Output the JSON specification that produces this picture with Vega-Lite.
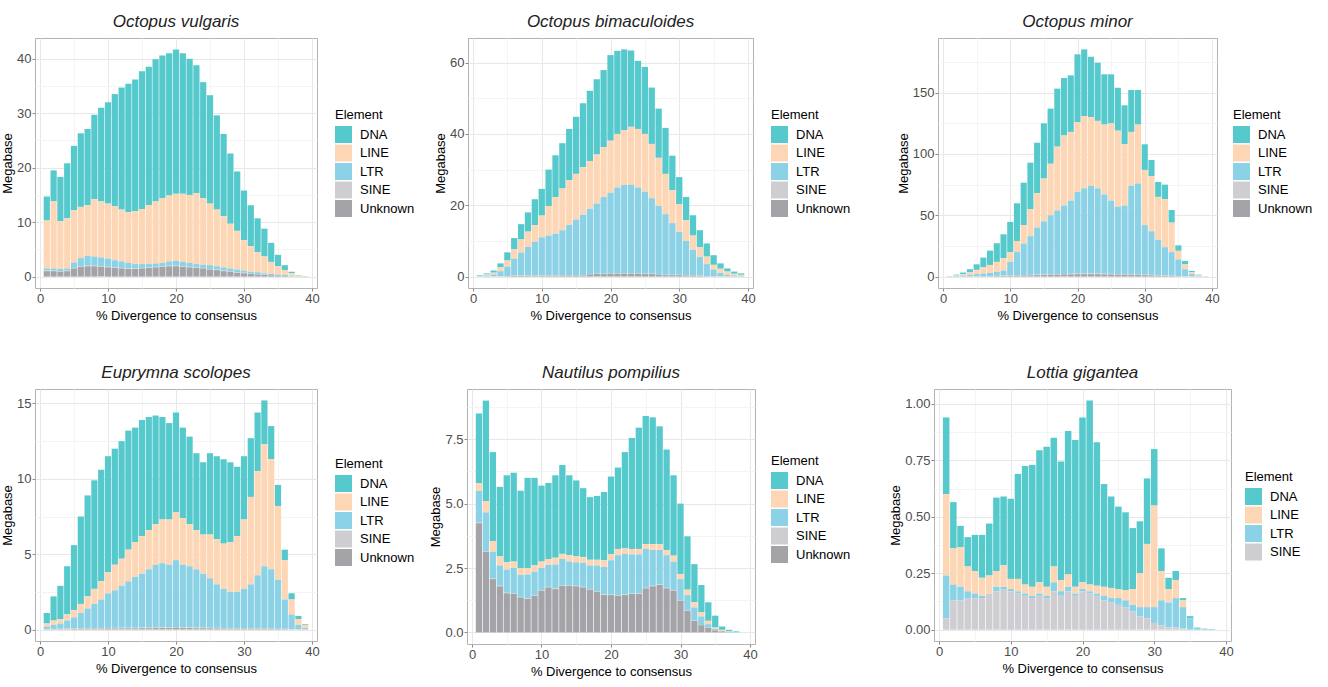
{
"$schema": "https://vega.github.io/schema/vega-lite/v6.json",
"padding": {"left": 1, "top": 12, "right": 5, "bottom": 5},
"background": "white",
"datasets": {
"vulgaris": [
{"d":1,"DNA":4.4,"LINE":8.8,"LTR":0.4,"SINE":0.1,"Unknown":1.0},
{"d":2,"DNA":5.7,"LINE":12.3,"LTR":0.4,"SINE":0.1,"Unknown":1.0},
{"d":3,"DNA":8.1,"LINE":8.8,"LTR":0.4,"SINE":0.1,"Unknown":0.9},
{"d":4,"DNA":10.1,"LINE":9.2,"LTR":0.4,"SINE":0.1,"Unknown":1.0},
{"d":5,"DNA":11.8,"LINE":9.6,"LTR":1.0,"SINE":0.1,"Unknown":1.5},
{"d":6,"DNA":13.5,"LINE":9.4,"LTR":1.5,"SINE":0.1,"Unknown":1.8},
{"d":7,"DNA":14.0,"LINE":9.3,"LTR":1.8,"SINE":0.1,"Unknown":1.9},
{"d":8,"DNA":15.5,"LINE":10.5,"LTR":1.7,"SINE":0.1,"Unknown":1.9},
{"d":9,"DNA":17.2,"LINE":10.3,"LTR":1.6,"SINE":0.1,"Unknown":1.8},
{"d":10,"DNA":18.6,"LINE":10.1,"LTR":1.5,"SINE":0.1,"Unknown":1.7},
{"d":11,"DNA":20.6,"LINE":9.9,"LTR":1.3,"SINE":0.1,"Unknown":1.6},
{"d":12,"DNA":22.4,"LINE":9.5,"LTR":1.2,"SINE":0.1,"Unknown":1.5},
{"d":13,"DNA":23.6,"LINE":9.3,"LTR":1.0,"SINE":0.1,"Unknown":1.4},
{"d":14,"DNA":24.2,"LINE":9.7,"LTR":0.8,"SINE":0.1,"Unknown":1.4},
{"d":15,"DNA":25.3,"LINE":10.1,"LTR":0.7,"SINE":0.1,"Unknown":1.5},
{"d":16,"DNA":25.4,"LINE":10.8,"LTR":0.6,"SINE":0.1,"Unknown":1.6},
{"d":17,"DNA":26.1,"LINE":11.4,"LTR":0.6,"SINE":0.1,"Unknown":1.7},
{"d":18,"DNA":26.2,"LINE":11.9,"LTR":0.6,"SINE":0.1,"Unknown":1.8},
{"d":19,"DNA":26.1,"LINE":12.1,"LTR":0.8,"SINE":0.1,"Unknown":1.9},
{"d":20,"DNA":26.5,"LINE":12.3,"LTR":0.9,"SINE":0.1,"Unknown":1.9},
{"d":21,"DNA":25.8,"LINE":12.5,"LTR":0.8,"SINE":0.1,"Unknown":1.8},
{"d":22,"DNA":25.0,"LINE":12.5,"LTR":0.7,"SINE":0.1,"Unknown":1.7},
{"d":23,"DNA":23.5,"LINE":13.0,"LTR":0.6,"SINE":0.1,"Unknown":1.6},
{"d":24,"DNA":21.3,"LINE":12.2,"LTR":0.6,"SINE":0.1,"Unknown":1.5},
{"d":25,"DNA":19.9,"LINE":11.3,"LTR":0.7,"SINE":0.1,"Unknown":1.3},
{"d":26,"DNA":17.3,"LINE":10.4,"LTR":0.6,"SINE":0.1,"Unknown":1.2},
{"d":27,"DNA":15.1,"LINE":9.4,"LTR":0.6,"SINE":0.1,"Unknown":1.0},
{"d":28,"DNA":12.9,"LINE":8.2,"LTR":0.5,"SINE":0.1,"Unknown":0.9},
{"d":29,"DNA":10.9,"LINE":7.1,"LTR":0.5,"SINE":0.1,"Unknown":0.7},
{"d":30,"DNA":9.1,"LINE":5.6,"LTR":0.4,"SINE":0.1,"Unknown":0.6},
{"d":31,"DNA":7.5,"LINE":4.7,"LTR":0.35,"SINE":0.05,"Unknown":0.5},
{"d":32,"DNA":6.2,"LINE":3.7,"LTR":0.35,"SINE":0.05,"Unknown":0.4},
{"d":33,"DNA":5.1,"LINE":3.1,"LTR":0.25,"SINE":0.05,"Unknown":0.3},
{"d":34,"DNA":3.5,"LINE":2.2,"LTR":0.2,"SINE":0.05,"Unknown":0.25},
{"d":35,"DNA":2.1,"LINE":1.5,"LTR":0.15,"SINE":0.05,"Unknown":0.2},
{"d":36,"DNA":0.9,"LINE":0.9,"LTR":0.2,"SINE":0.0,"Unknown":0.1},
{"d":37,"DNA":0.3,"LINE":0.45,"LTR":0.1,"SINE":0.0,"Unknown":0.05},
{"d":38,"DNA":0.1,"LINE":0.15,"LTR":0.03,"SINE":0.0,"Unknown":0.02},
{"d":39,"DNA":0.05,"LINE":0.03,"LTR":0.01,"SINE":0.0,"Unknown":0.01}
],
"bimaculoides": [
{"d":1,"DNA":0.2,"LINE":0.1,"LTR":0.08,"SINE":0.01,"Unknown":0.01},
{"d":2,"DNA":0.3,"LINE":0.3,"LTR":0.26,"SINE":0.02,"Unknown":0.02},
{"d":3,"DNA":0.6,"LINE":0.5,"LTR":0.55,"SINE":0.02,"Unknown":0.03},
{"d":4,"DNA":1.1,"LINE":1.1,"LTR":1.4,"SINE":0.05,"Unknown":0.05},
{"d":5,"DNA":2.3,"LINE":1.7,"LTR":2.65,"SINE":0.05,"Unknown":0.1},
{"d":6,"DNA":3.2,"LINE":2.6,"LTR":4.7,"SINE":0.1,"Unknown":0.2},
{"d":7,"DNA":4.3,"LINE":3.7,"LTR":6.4,"SINE":0.1,"Unknown":0.2},
{"d":8,"DNA":5.4,"LINE":4.3,"LTR":8.0,"SINE":0.1,"Unknown":0.2},
{"d":9,"DNA":7.3,"LINE":4.6,"LTR":9.5,"SINE":0.1,"Unknown":0.2},
{"d":10,"DNA":7.5,"LINE":6.1,"LTR":10.7,"SINE":0.1,"Unknown":0.2},
{"d":11,"DNA":10.2,"LINE":8.3,"LTR":11.2,"SINE":0.1,"Unknown":0.2},
{"d":12,"DNA":11.7,"LINE":10.3,"LTR":11.7,"SINE":0.1,"Unknown":0.2},
{"d":13,"DNA":12.7,"LINE":11.7,"LTR":12.6,"SINE":0.1,"Unknown":0.3},
{"d":14,"DNA":14.4,"LINE":12.5,"LTR":14.1,"SINE":0.1,"Unknown":0.3},
{"d":15,"DNA":16.0,"LINE":12.8,"LTR":15.6,"SINE":0.1,"Unknown":0.3},
{"d":16,"DNA":17.9,"LINE":13.4,"LTR":16.9,"SINE":0.1,"Unknown":0.3},
{"d":17,"DNA":19.7,"LINE":13.4,"LTR":18.3,"SINE":0.1,"Unknown":0.6},
{"d":18,"DNA":21.1,"LINE":13.7,"LTR":19.7,"SINE":0.1,"Unknown":0.7},
{"d":19,"DNA":21.6,"LINE":14.0,"LTR":21.5,"SINE":0.1,"Unknown":0.7},
{"d":20,"DNA":24.0,"LINE":14.6,"LTR":22.6,"SINE":0.1,"Unknown":0.8},
{"d":21,"DNA":23.3,"LINE":15.0,"LTR":24.1,"SINE":0.1,"Unknown":0.8},
{"d":22,"DNA":22.6,"LINE":15.4,"LTR":24.8,"SINE":0.1,"Unknown":0.8},
{"d":23,"DNA":21.4,"LINE":16.2,"LTR":24.9,"SINE":0.1,"Unknown":0.8},
{"d":24,"DNA":19.1,"LINE":16.4,"LTR":24.1,"SINE":0.1,"Unknown":0.8},
{"d":25,"DNA":18.8,"LINE":16.2,"LTR":23.0,"SINE":0.1,"Unknown":0.7},
{"d":26,"DNA":15.8,"LINE":15.2,"LTR":21.2,"SINE":0.1,"Unknown":0.7},
{"d":27,"DNA":13.8,"LINE":13.5,"LTR":19.1,"SINE":0.1,"Unknown":0.6},
{"d":28,"DNA":12.9,"LINE":11.3,"LTR":17.0,"SINE":0.1,"Unknown":0.4},
{"d":29,"DNA":9.7,"LINE":9.2,"LTR":14.5,"SINE":0.1,"Unknown":0.4},
{"d":30,"DNA":7.6,"LINE":7.8,"LTR":12.0,"SINE":0.1,"Unknown":0.4},
{"d":31,"DNA":6.5,"LINE":5.8,"LTR":9.6,"SINE":0.1,"Unknown":0.3},
{"d":32,"DNA":5.7,"LINE":4.0,"LTR":7.1,"SINE":0.1,"Unknown":0.3},
{"d":33,"DNA":4.8,"LINE":2.7,"LTR":5.2,"SINE":0.1,"Unknown":0.2},
{"d":34,"DNA":3.7,"LINE":2.1,"LTR":3.35,"SINE":0.05,"Unknown":0.1},
{"d":35,"DNA":2.7,"LINE":1.3,"LTR":1.85,"SINE":0.05,"Unknown":0.1},
{"d":36,"DNA":1.5,"LINE":1.2,"LTR":0.93,"SINE":0.02,"Unknown":0.05},
{"d":37,"DNA":0.9,"LINE":0.9,"LTR":0.45,"SINE":0.02,"Unknown":0.03},
{"d":38,"DNA":0.6,"LINE":0.5,"LTR":0.27,"SINE":0.01,"Unknown":0.02},
{"d":39,"DNA":0.4,"LINE":0.3,"LTR":0.18,"SINE":0.01,"Unknown":0.01}
],
"minor": [
{"d":1,"DNA":0.2,"LINE":0.1,"LTR":0.13,"SINE":0.02,"Unknown":0.05},
{"d":2,"DNA":0.7,"LINE":0.4,"LTR":0.35,"SINE":0.05,"Unknown":0.1},
{"d":3,"DNA":1.3,"LINE":1.0,"LTR":0.8,"SINE":0.05,"Unknown":0.15},
{"d":4,"DNA":2.5,"LINE":2.0,"LTR":1.2,"SINE":0.1,"Unknown":0.2},
{"d":5,"DNA":4.5,"LINE":3.5,"LTR":1.7,"SINE":0.1,"Unknown":0.2},
{"d":6,"DNA":8.0,"LINE":5.0,"LTR":2.1,"SINE":0.1,"Unknown":0.3},
{"d":7,"DNA":11.7,"LINE":6.5,"LTR":2.5,"SINE":0.2,"Unknown":0.3},
{"d":8,"DNA":15.2,"LINE":8.2,"LTR":3.2,"SINE":0.2,"Unknown":0.4},
{"d":9,"DNA":19.5,"LINE":10.0,"LTR":4.2,"SINE":0.3,"Unknown":0.5},
{"d":10,"DNA":24.6,"LINE":8.0,"LTR":11.1,"SINE":0.3,"Unknown":0.6},
{"d":11,"DNA":30.8,"LINE":9.0,"LTR":18.9,"SINE":0.3,"Unknown":0.8},
{"d":12,"DNA":34.6,"LINE":15.0,"LTR":25.7,"SINE":0.4,"Unknown":0.9},
{"d":13,"DNA":37.9,"LINE":22.0,"LTR":31.6,"SINE":0.4,"Unknown":1.0},
{"d":14,"DNA":41.2,"LINE":28.0,"LTR":38.3,"SINE":0.5,"Unknown":1.2},
{"d":15,"DNA":45.0,"LINE":35.0,"LTR":43.2,"SINE":0.5,"Unknown":1.3},
{"d":16,"DNA":45.0,"LINE":42.0,"LTR":48.0,"SINE":0.5,"Unknown":1.5},
{"d":17,"DNA":47.3,"LINE":52.0,"LTR":51.9,"SINE":0.5,"Unknown":1.6},
{"d":18,"DNA":47.0,"LINE":57.0,"LTR":55.8,"SINE":0.5,"Unknown":1.7},
{"d":19,"DNA":46.1,"LINE":56.0,"LTR":59.7,"SINE":0.5,"Unknown":1.8},
{"d":20,"DNA":55.3,"LINE":57.0,"LTR":66.5,"SINE":0.5,"Unknown":2.0},
{"d":21,"DNA":54.3,"LINE":59.0,"LTR":69.5,"SINE":0.5,"Unknown":2.0},
{"d":22,"DNA":49.3,"LINE":56.0,"LTR":71.5,"SINE":0.5,"Unknown":2.0},
{"d":23,"DNA":47.5,"LINE":55.0,"LTR":69.5,"SINE":0.5,"Unknown":2.0},
{"d":24,"DNA":41.0,"LINE":57.0,"LTR":64.7,"SINE":0.5,"Unknown":1.8},
{"d":25,"DNA":40.0,"LINE":63.0,"LTR":59.7,"SINE":0.5,"Unknown":1.8},
{"d":26,"DNA":35.0,"LINE":62.0,"LTR":54.9,"SINE":0.5,"Unknown":1.6},
{"d":27,"DNA":31.7,"LINE":50.0,"LTR":55.9,"SINE":0.5,"Unknown":1.6},
{"d":28,"DNA":34.2,"LINE":44.0,"LTR":72.0,"SINE":0.5,"Unknown":1.5},
{"d":29,"DNA":28.2,"LINE":48.0,"LTR":74.0,"SINE":0.5,"Unknown":1.5},
{"d":30,"DNA":20.9,"LINE":45.0,"LTR":40.4,"SINE":0.4,"Unknown":1.2},
{"d":31,"DNA":13.1,"LINE":45.0,"LTR":35.6,"SINE":0.4,"Unknown":1.0},
{"d":32,"DNA":12.2,"LINE":35.0,"LTR":28.9,"SINE":0.3,"Unknown":0.8},
{"d":33,"DNA":12.0,"LINE":39.0,"LTR":23.1,"SINE":0.3,"Unknown":0.6},
{"d":34,"DNA":10.3,"LINE":24.0,"LTR":19.3,"SINE":0.2,"Unknown":0.5},
{"d":35,"DNA":4.5,"LINE":7.0,"LTR":13.6,"SINE":0.1,"Unknown":0.3},
{"d":36,"DNA":2.8,"LINE":4.0,"LTR":5.7,"SINE":0.1,"Unknown":0.2},
{"d":37,"DNA":1.1,"LINE":1.5,"LTR":1.85,"SINE":0.05,"Unknown":0.1},
{"d":38,"DNA":0.4,"LINE":0.6,"LTR":0.53,"SINE":0.02,"Unknown":0.05},
{"d":39,"DNA":0.1,"LINE":0.2,"LTR":0.17,"SINE":0.01,"Unknown":0.02}
],
"scolopes": [
{"d":1,"DNA":0.7,"LINE":0.2,"LTR":0.16,"SINE":0.02,"Unknown":0.02},
{"d":2,"DNA":1.6,"LINE":0.3,"LTR":0.26,"SINE":0.02,"Unknown":0.02},
{"d":3,"DNA":2.2,"LINE":0.3,"LTR":0.35,"SINE":0.02,"Unknown":0.03},
{"d":4,"DNA":3.2,"LINE":0.4,"LTR":0.54,"SINE":0.03,"Unknown":0.03},
{"d":5,"DNA":4.3,"LINE":0.5,"LTR":0.73,"SINE":0.03,"Unknown":0.04},
{"d":6,"DNA":5.8,"LINE":0.6,"LTR":1.02,"SINE":0.03,"Unknown":0.05},
{"d":7,"DNA":6.7,"LINE":0.8,"LTR":1.32,"SINE":0.03,"Unknown":0.05},
{"d":8,"DNA":7.2,"LINE":1.0,"LTR":1.6,"SINE":0.04,"Unknown":0.06},
{"d":9,"DNA":7.4,"LINE":1.2,"LTR":1.9,"SINE":0.04,"Unknown":0.06},
{"d":10,"DNA":7.7,"LINE":1.4,"LTR":2.29,"SINE":0.04,"Unknown":0.07},
{"d":11,"DNA":7.7,"LINE":1.7,"LTR":2.49,"SINE":0.04,"Unknown":0.07},
{"d":12,"DNA":7.8,"LINE":1.8,"LTR":2.78,"SINE":0.04,"Unknown":0.08},
{"d":13,"DNA":7.9,"LINE":2.1,"LTR":3.08,"SINE":0.04,"Unknown":0.08},
{"d":14,"DNA":7.6,"LINE":2.3,"LTR":3.38,"SINE":0.04,"Unknown":0.08},
{"d":15,"DNA":7.7,"LINE":2.5,"LTR":3.57,"SINE":0.04,"Unknown":0.09},
{"d":16,"DNA":7.5,"LINE":2.6,"LTR":3.87,"SINE":0.04,"Unknown":0.09},
{"d":17,"DNA":7.2,"LINE":2.7,"LTR":4.16,"SINE":0.04,"Unknown":0.1},
{"d":18,"DNA":6.8,"LINE":2.9,"LTR":4.26,"SINE":0.04,"Unknown":0.1},
{"d":19,"DNA":6.4,"LINE":3.0,"LTR":4.16,"SINE":0.04,"Unknown":0.1},
{"d":20,"DNA":6.6,"LINE":3.2,"LTR":4.44,"SINE":0.04,"Unknown":0.12},
{"d":21,"DNA":6.0,"LINE":3.1,"LTR":4.16,"SINE":0.04,"Unknown":0.1},
{"d":22,"DNA":5.8,"LINE":2.8,"LTR":4.06,"SINE":0.04,"Unknown":0.1},
{"d":23,"DNA":5.1,"LINE":2.6,"LTR":3.87,"SINE":0.04,"Unknown":0.09},
{"d":24,"DNA":4.8,"LINE":2.6,"LTR":3.57,"SINE":0.04,"Unknown":0.09},
{"d":25,"DNA":5.4,"LINE":2.9,"LTR":3.28,"SINE":0.04,"Unknown":0.08},
{"d":26,"DNA":5.5,"LINE":3.0,"LTR":2.89,"SINE":0.04,"Unknown":0.07},
{"d":27,"DNA":5.6,"LINE":3.0,"LTR":2.61,"SINE":0.03,"Unknown":0.06},
{"d":28,"DNA":5.3,"LINE":3.3,"LTR":2.42,"SINE":0.03,"Unknown":0.05},
{"d":29,"DNA":4.6,"LINE":3.7,"LTR":2.42,"SINE":0.03,"Unknown":0.05},
{"d":30,"DNA":4.2,"LINE":4.6,"LTR":2.62,"SINE":0.03,"Unknown":0.05},
{"d":31,"DNA":3.9,"LINE":5.8,"LTR":2.92,"SINE":0.03,"Unknown":0.05},
{"d":32,"DNA":3.9,"LINE":6.9,"LTR":3.52,"SINE":0.03,"Unknown":0.05},
{"d":33,"DNA":2.9,"LINE":8.1,"LTR":4.12,"SINE":0.03,"Unknown":0.05},
{"d":34,"DNA":2.2,"LINE":7.3,"LTR":3.92,"SINE":0.03,"Unknown":0.05},
{"d":35,"DNA":1.4,"LINE":4.9,"LTR":3.24,"SINE":0.02,"Unknown":0.04},
{"d":36,"DNA":0.7,"LINE":2.6,"LTR":1.95,"SINE":0.02,"Unknown":0.03},
{"d":37,"DNA":0.4,"LINE":1.0,"LTR":0.97,"SINE":0.01,"Unknown":0.02},
{"d":38,"DNA":0.2,"LINE":0.4,"LTR":0.28,"SINE":0.01,"Unknown":0.01},
{"d":39,"DNA":0.05,"LINE":0.2,"LTR":0.09,"SINE":0.0,"Unknown":0.01}
],
"pompilius": [
{"d":1,"DNA":2.7,"LINE":0.3,"LTR":1.24,"SINE":0.02,"Unknown":4.24},
{"d":2,"DNA":3.9,"LINE":0.44,"LTR":1.51,"SINE":0.02,"Unknown":3.13},
{"d":3,"DNA":3.45,"LINE":0.42,"LTR":1.04,"SINE":0.02,"Unknown":2.07},
{"d":4,"DNA":2.7,"LINE":0.35,"LTR":0.79,"SINE":0.02,"Unknown":1.79},
{"d":5,"DNA":3.38,"LINE":0.28,"LTR":0.9,"SINE":0.02,"Unknown":1.52},
{"d":6,"DNA":3.45,"LINE":0.25,"LTR":0.98,"SINE":0.02,"Unknown":1.5},
{"d":7,"DNA":3.0,"LINE":0.27,"LTR":0.85,"SINE":0.02,"Unknown":1.36},
{"d":8,"DNA":3.5,"LINE":0.25,"LTR":0.93,"SINE":0.02,"Unknown":1.3},
{"d":9,"DNA":3.4,"LINE":0.24,"LTR":0.92,"SINE":0.02,"Unknown":1.42},
{"d":10,"DNA":2.95,"LINE":0.25,"LTR":0.86,"SINE":0.02,"Unknown":1.62},
{"d":11,"DNA":2.95,"LINE":0.23,"LTR":0.85,"SINE":0.02,"Unknown":1.75},
{"d":12,"DNA":3.2,"LINE":0.26,"LTR":0.94,"SINE":0.02,"Unknown":1.68},
{"d":13,"DNA":3.45,"LINE":0.2,"LTR":1.02,"SINE":0.02,"Unknown":1.81},
{"d":14,"DNA":3.1,"LINE":0.25,"LTR":0.92,"SINE":0.02,"Unknown":1.81},
{"d":15,"DNA":2.95,"LINE":0.23,"LTR":0.91,"SINE":0.02,"Unknown":1.79},
{"d":16,"DNA":2.67,"LINE":0.23,"LTR":0.93,"SINE":0.02,"Unknown":1.75},
{"d":17,"DNA":2.43,"LINE":0.22,"LTR":0.92,"SINE":0.02,"Unknown":1.66},
{"d":18,"DNA":2.48,"LINE":0.22,"LTR":1.0,"SINE":0.02,"Unknown":1.58},
{"d":19,"DNA":2.65,"LINE":0.26,"LTR":1.07,"SINE":0.02,"Unknown":1.45},
{"d":20,"DNA":3.02,"LINE":0.23,"LTR":1.33,"SINE":0.02,"Unknown":1.45},
{"d":21,"DNA":3.16,"LINE":0.24,"LTR":1.56,"SINE":0.02,"Unknown":1.42},
{"d":22,"DNA":3.74,"LINE":0.21,"LTR":1.58,"SINE":0.02,"Unknown":1.45},
{"d":23,"DNA":4.31,"LINE":0.21,"LTR":1.52,"SINE":0.02,"Unknown":1.49},
{"d":24,"DNA":4.71,"LINE":0.21,"LTR":1.52,"SINE":0.02,"Unknown":1.49},
{"d":25,"DNA":4.97,"LINE":0.19,"LTR":1.51,"SINE":0.02,"Unknown":1.71},
{"d":26,"DNA":4.92,"LINE":0.23,"LTR":1.39,"SINE":0.02,"Unknown":1.79},
{"d":27,"DNA":4.57,"LINE":0.23,"LTR":1.34,"SINE":0.02,"Unknown":1.84},
{"d":28,"DNA":3.9,"LINE":0.2,"LTR":1.27,"SINE":0.02,"Unknown":1.71},
{"d":29,"DNA":3.12,"LINE":0.23,"LTR":1.11,"SINE":0.02,"Unknown":1.62},
{"d":30,"DNA":2.73,"LINE":0.2,"LTR":0.82,"SINE":0.02,"Unknown":1.23},
{"d":31,"DNA":2.07,"LINE":0.21,"LTR":0.59,"SINE":0.02,"Unknown":0.84},
{"d":32,"DNA":1.48,"LINE":0.2,"LTR":0.5,"SINE":0.02,"Unknown":0.45},
{"d":33,"DNA":1.06,"LINE":0.16,"LTR":0.33,"SINE":0.01,"Unknown":0.28},
{"d":34,"DNA":0.72,"LINE":0.13,"LTR":0.13,"SINE":0.01,"Unknown":0.18},
{"d":35,"DNA":0.46,"LINE":0.06,"LTR":0.04,"SINE":0.01,"Unknown":0.08},
{"d":36,"DNA":0.13,"LINE":0.05,"LTR":0.01,"SINE":0.0,"Unknown":0.04},
{"d":37,"DNA":0.05,"LINE":0.02,"LTR":0.02,"SINE":0.0,"Unknown":0.01},
{"d":38,"DNA":0.03,"LINE":0.0,"LTR":0.01,"SINE":0.0,"Unknown":0.0}
],
"gigantea": [
{"d":1,"DNA":0.34,"LINE":0.36,"LTR":0.19,"SINE":0.05},
{"d":2,"DNA":0.205,"LINE":0.16,"LTR":0.07,"SINE":0.13},
{"d":3,"DNA":0.095,"LINE":0.175,"LTR":0.06,"SINE":0.13},
{"d":4,"DNA":0.13,"LINE":0.11,"LTR":0.03,"SINE":0.14},
{"d":5,"DNA":0.16,"LINE":0.1,"LTR":0.02,"SINE":0.14},
{"d":6,"DNA":0.19,"LINE":0.08,"LTR":0.01,"SINE":0.14},
{"d":7,"DNA":0.23,"LINE":0.08,"LTR":0.0,"SINE":0.16},
{"d":8,"DNA":0.325,"LINE":0.07,"LTR":0.02,"SINE":0.17},
{"d":9,"DNA":0.305,"LINE":0.095,"LTR":0.01,"SINE":0.18},
{"d":10,"DNA":0.355,"LINE":0.045,"LTR":0.01,"SINE":0.17},
{"d":11,"DNA":0.465,"LINE":0.055,"LTR":0.01,"SINE":0.16},
{"d":12,"DNA":0.525,"LINE":0.04,"LTR":0.01,"SINE":0.15},
{"d":13,"DNA":0.54,"LINE":0.04,"LTR":0.01,"SINE":0.14},
{"d":14,"DNA":0.585,"LINE":0.05,"LTR":0.01,"SINE":0.15},
{"d":15,"DNA":0.62,"LINE":0.04,"LTR":0.01,"SINE":0.14},
{"d":16,"DNA":0.57,"LINE":0.07,"LTR":0.04,"SINE":0.17},
{"d":17,"DNA":0.525,"LINE":0.05,"LTR":0.02,"SINE":0.15},
{"d":18,"DNA":0.635,"LINE":0.055,"LTR":0.02,"SINE":0.17},
{"d":19,"DNA":0.65,"LINE":0.03,"LTR":0.01,"SINE":0.15},
{"d":20,"DNA":0.73,"LINE":0.03,"LTR":0.01,"SINE":0.17},
{"d":21,"DNA":0.815,"LINE":0.03,"LTR":0.01,"SINE":0.16},
{"d":22,"DNA":0.635,"LINE":0.035,"LTR":0.01,"SINE":0.15},
{"d":23,"DNA":0.455,"LINE":0.04,"LTR":0.02,"SINE":0.13},
{"d":24,"DNA":0.405,"LINE":0.045,"LTR":0.02,"SINE":0.12},
{"d":25,"DNA":0.365,"LINE":0.04,"LTR":0.03,"SINE":0.11},
{"d":26,"DNA":0.345,"LINE":0.045,"LTR":0.03,"SINE":0.1},
{"d":27,"DNA":0.27,"LINE":0.07,"LTR":0.03,"SINE":0.08},
{"d":28,"DNA":0.23,"LINE":0.15,"LTR":0.04,"SINE":0.06},
{"d":29,"DNA":0.29,"LINE":0.28,"LTR":0.05,"SINE":0.05},
{"d":30,"DNA":0.25,"LINE":0.45,"LTR":0.07,"SINE":0.03},
{"d":31,"DNA":0.1,"LINE":0.13,"LTR":0.11,"SINE":0.02},
{"d":32,"DNA":0.05,"LINE":0.06,"LTR":0.11,"SINE":0.01},
{"d":33,"DNA":0.04,"LINE":0.08,"LTR":0.13,"SINE":0.01},
{"d":34,"DNA":0.01,"LINE":0.03,"LTR":0.095,"SINE":0.005},
{"d":35,"DNA":0.01,"LINE":0.0,"LTR":0.05,"SINE":0.0},
{"d":36,"DNA":0.0,"LINE":0.0,"LTR":0.01,"SINE":0.0},
{"d":37,"DNA":0.0,"LINE":0.0,"LTR":0.005,"SINE":0.0},
{"d":38,"DNA":0.0,"LINE":0.0,"LTR":0.003,"SINE":0.0}
]
},
"spacing": 40,
"resolve": {"scale": {"color": "independent", "x": "independent", "y": "independent"}, "legend": {"color": "independent"}},
"vconcat": [
{
"spacing": 18,
"resolve": {"scale": {"color": "independent", "x": "independent", "y": "independent"}, "legend": {"color": "independent"}},
"hconcat": [
{
"data": {"name": "vulgaris"},
"width": 282, "height": 250,
"title": "Octopus vulgaris",
"transform": [{"fold": ["DNA","LINE","LTR","SINE","Unknown"], "as": ["Element","Mb"]}],
"mark": {"type": "bar", "width": 6.2},
"encoding": {
"x": {"field": "d", "type": "quantitative", "title": "% Divergence to consensus", "scale": {"domain": [0, 40], "nice": false},
"axis": {"values": [0,5,10,15,20,25,30,35,40], "labelExpr": "datum.value % 10 === 0 ? datum.label : ''", "tickOpacity": {"condition": {"test": "datum.value % 10 !== 0", "value": 0}, "value": 1}, "gridColor": {"condition": {"test": "datum.value % 10 !== 0", "value": "#F4F4F4"}, "value": "#E8E8E8"}}},
"y": {"field": "Mb", "type": "quantitative", "stack": "zero", "title": "Megabase", "scale": {"domain": [-2.09, 43.8], "nice": false, "zero": false},
"axis": {"values": [0,5,10,15,20,25,30,35,40], "labelExpr": "datum.value % 10 === 0 ? datum.label : ''", "tickOpacity": {"condition": {"test": "datum.value % 10 !== 0", "value": 0}, "value": 1}, "gridColor": {"condition": {"test": "datum.value % 10 !== 0", "value": "#F4F4F4"}, "value": "#E8E8E8"}}},
"color": {"field": "Element", "type": "nominal", "scale": {"domain": ["DNA","LINE","LTR","SINE","Unknown"], "range": ["#55C9CC","#FDD7B5","#8CD2E6","#CECED2","#A4A3A8"]}, "legend": {"orient": "none", "legendX": 300, "legendY": 71}},
"order": {"field": "Element", "sort": "descending"}
}
},
{
"spacing": 44,
"resolve": {"scale": {"color": "independent", "x": "independent", "y": "independent"}, "legend": {"color": "independent"}},
"hconcat": [
{
"data": {"name": "bimaculoides"},
"width": 285, "height": 250,
"title": "Octopus bimaculoides",
"transform": [{"fold": ["DNA","LINE","LTR","SINE","Unknown"], "as": ["Element","Mb"]}],
"mark": {"type": "bar", "width": 6.3},
"encoding": {
"x": {"field": "d", "type": "quantitative", "title": "% Divergence to consensus", "scale": {"domain": [0, 40], "nice": false},
"axis": {"values": [0,5,10,15,20,25,30,35,40], "labelExpr": "datum.value % 10 === 0 ? datum.label : ''", "tickOpacity": {"condition": {"test": "datum.value % 10 !== 0", "value": 0}, "value": 1}, "gridColor": {"condition": {"test": "datum.value % 10 !== 0", "value": "#F4F4F4"}, "value": "#E8E8E8"}}},
"y": {"field": "Mb", "type": "quantitative", "stack": "zero", "title": "Megabase", "scale": {"domain": [-3.2, 66.9], "nice": false, "zero": false},
"axis": {"values": [0,10,20,30,40,50,60], "labelExpr": "datum.value % 20 === 0 ? datum.label : ''", "tickOpacity": {"condition": {"test": "datum.value % 20 !== 0", "value": 0}, "value": 1}, "gridColor": {"condition": {"test": "datum.value % 20 !== 0", "value": "#F4F4F4"}, "value": "#E8E8E8"}}},
"color": {"field": "Element", "type": "nominal", "scale": {"domain": ["DNA","LINE","LTR","SINE","Unknown"], "range": ["#55C9CC","#FDD7B5","#8CD2E6","#CECED2","#A4A3A8"]}, "legend": {"orient": "none", "legendX": 303, "legendY": 71}},
"order": {"field": "Element", "sort": "descending"}
}
},
{
"data": {"name": "minor"},
"width": 279, "height": 250,
"title": "Octopus minor",
"transform": [{"fold": ["DNA","LINE","LTR","SINE","Unknown"], "as": ["Element","Mb"]}],
"mark": {"type": "bar", "width": 6.1},
"encoding": {
"x": {"field": "d", "type": "quantitative", "title": "% Divergence to consensus", "scale": {"domain": [0, 40], "nice": false},
"axis": {"values": [0,5,10,15,20,25,30,35,40], "labelExpr": "datum.value % 10 === 0 ? datum.label : ''", "tickOpacity": {"condition": {"test": "datum.value % 10 !== 0", "value": 0}, "value": 1}, "gridColor": {"condition": {"test": "datum.value % 10 !== 0", "value": "#F4F4F4"}, "value": "#E8E8E8"}}},
"y": {"field": "Mb", "type": "quantitative", "stack": "zero", "title": "Megabase", "scale": {"domain": [-9.3, 194.6], "nice": false, "zero": false},
"axis": {"values": [0,25,50,75,100,125,150,175], "labelExpr": "datum.value % 50 === 0 ? datum.label : ''", "tickOpacity": {"condition": {"test": "datum.value % 50 !== 0", "value": 0}, "value": 1}, "gridColor": {"condition": {"test": "datum.value % 50 !== 0", "value": "#F4F4F4"}, "value": "#E8E8E8"}}},
"color": {"field": "Element", "type": "nominal", "scale": {"domain": ["DNA","LINE","LTR","SINE","Unknown"], "range": ["#55C9CC","#FDD7B5","#8CD2E6","#CECED2","#A4A3A8"]}, "legend": {"orient": "none", "legendX": 295, "legendY": 71}},
"order": {"field": "Element", "sort": "descending"}
}
}
]
}
]
},
{
"spacing": 13,
"resolve": {"scale": {"color": "independent", "x": "independent", "y": "independent"}, "legend": {"color": "independent"}},
"hconcat": [
{
"data": {"name": "scolopes"},
"width": 282, "height": 252,
"title": "Euprymna scolopes",
"transform": [{"fold": ["DNA","LINE","LTR","SINE","Unknown"], "as": ["Element","Mb"]}],
"mark": {"type": "bar", "width": 6.2},
"encoding": {
"x": {"field": "d", "type": "quantitative", "title": "% Divergence to consensus", "scale": {"domain": [0, 40], "nice": false},
"axis": {"values": [0,5,10,15,20,25,30,35,40], "labelExpr": "datum.value % 10 === 0 ? datum.label : ''", "tickOpacity": {"condition": {"test": "datum.value % 10 !== 0", "value": 0}, "value": 1}, "gridColor": {"condition": {"test": "datum.value % 10 !== 0", "value": "#F4F4F4"}, "value": "#E8E8E8"}}},
"y": {"field": "Mb", "type": "quantitative", "stack": "zero", "title": "Megabase", "scale": {"domain": [-0.76, 15.96], "nice": false, "zero": false},
"axis": {"values": [0,2.5,5,7.5,10,12.5,15], "labelExpr": "datum.value % 5 === 0 ? datum.label : ''", "tickOpacity": {"condition": {"test": "datum.value % 5 !== 0", "value": 0}, "value": 1}, "gridColor": {"condition": {"test": "datum.value % 5 !== 0", "value": "#F4F4F4"}, "value": "#E8E8E8"}}},
"color": {"field": "Element", "type": "nominal", "scale": {"domain": ["DNA","LINE","LTR","SINE","Unknown"], "range": ["#55C9CC","#FDD7B5","#8CD2E6","#CECED2","#A4A3A8"]}, "legend": {"orient": "none", "legendX": 300, "legendY": 69}},
"order": {"field": "Element", "sort": "descending"}
}
},
{
"spacing": 37,
"resolve": {"scale": {"color": "independent", "x": "independent", "y": "independent"}, "legend": {"color": "independent"}},
"hconcat": [
{
"data": {"name": "pompilius"},
"width": 288, "height": 255,
"title": "Nautilus pompilius",
"transform": [{"fold": ["DNA","LINE","LTR","SINE","Unknown"], "as": ["Element","Mb"]}],
"mark": {"type": "bar", "width": 6.3},
"encoding": {
"x": {"field": "d", "type": "quantitative", "title": "% Divergence to consensus", "scale": {"domain": [0, 40], "nice": false},
"axis": {"values": [0,5,10,15,20,25,30,35,40], "labelExpr": "datum.value % 10 === 0 ? datum.label : ''", "tickOpacity": {"condition": {"test": "datum.value % 10 !== 0", "value": 0}, "value": 1}, "gridColor": {"condition": {"test": "datum.value % 10 !== 0", "value": "#F4F4F4"}, "value": "#E8E8E8"}}},
"y": {"field": "Mb", "type": "quantitative", "stack": "zero", "title": "Megabase", "scale": {"domain": [-0.45, 9.45], "nice": false, "zero": false},
"axis": {"values": [0,1.25,2.5,3.75,5,6.25,7.5,8.75], "format": ".1f", "labelExpr": "datum.value % 2.5 === 0 ? datum.label : ''", "tickOpacity": {"condition": {"test": "datum.value % 2.5 !== 0", "value": 0}, "value": 1}, "gridColor": {"condition": {"test": "datum.value % 2.5 !== 0", "value": "#F4F4F4"}, "value": "#E8E8E8"}}},
"color": {"field": "Element", "type": "nominal", "scale": {"domain": ["DNA","LINE","LTR","SINE","Unknown"], "range": ["#55C9CC","#FDD7B5","#8CD2E6","#CECED2","#A4A3A8"]}, "legend": {"orient": "none", "legendX": 304, "legendY": 66}},
"order": {"field": "Element", "sort": "descending"}
}
},
{
"data": {"name": "gigantea"},
"width": 297, "height": 252,
"title": "Lottia gigantea",
"transform": [{"fold": ["DNA","LINE","LTR","SINE"], "as": ["Element","Mb"]}],
"mark": {"type": "bar", "width": 6.5},
"encoding": {
"x": {"field": "d", "type": "quantitative", "title": "% Divergence to consensus", "scale": {"domain": [0, 40], "nice": false},
"axis": {"values": [0,5,10,15,20,25,30,35,40], "labelExpr": "datum.value % 10 === 0 ? datum.label : ''", "tickOpacity": {"condition": {"test": "datum.value % 10 !== 0", "value": 0}, "value": 1}, "gridColor": {"condition": {"test": "datum.value % 10 !== 0", "value": "#F4F4F4"}, "value": "#E8E8E8"}}},
"y": {"field": "Mb", "type": "quantitative", "stack": "zero", "title": "Megabase", "scale": {"domain": [-0.05, 1.066], "nice": false, "zero": false},
"axis": {"values": [0,0.125,0.25,0.375,0.5,0.625,0.75,0.875,1], "format": ".2f", "labelExpr": "datum.value % 0.25 === 0 ? datum.label : ''", "tickOpacity": {"condition": {"test": "datum.value % 0.25 !== 0", "value": 0}, "value": 1}, "gridColor": {"condition": {"test": "datum.value % 0.25 !== 0", "value": "#F4F4F4"}, "value": "#E8E8E8"}}},
"color": {"field": "Element", "type": "nominal", "scale": {"domain": ["DNA","LINE","LTR","SINE"], "range": ["#55C9CC","#FDD7B5","#8CD2E6","#CECED2"]}, "legend": {"orient": "none", "legendX": 311, "legendY": 82}},
"order": {"field": "Element", "sort": "descending"}
}
}
]
}
]
}
],
"config": {
"font": "Liberation Sans",
"view": {"stroke": "#B3B3B3", "strokeWidth": 1},
"title": {"fontSize": 17, "fontStyle": "italic", "fontWeight": "normal", "color": "#222222", "offset": 7, "anchor": "middle"},
"axis": {"domain": false, "tickColor": "#8A8A8A", "tickSize": 3, "labelFontSize": 13, "labelColor": "#4D4D4D", "labelPadding": 1, "titleFontSize": 13, "titleFontWeight": "normal", "titleColor": "#000000", "labelOverlap": false, "labelFlush": false, "gridWidth": 1},
"axisX": {"titlePadding": 4},
"axisY": {"titlePadding": 2},
"legend": {"titleFontSize": 13, "titleFontWeight": "normal", "titleColor": "#000000", "labelFontSize": 13, "labelColor": "#000000", "symbolType": "square", "symbolSize": 289, "symbolStrokeWidth": 0, "symbolOpacity": 1, "rowPadding": 1.5, "titlePadding": 4, "labelOffset": 8}
}
}
